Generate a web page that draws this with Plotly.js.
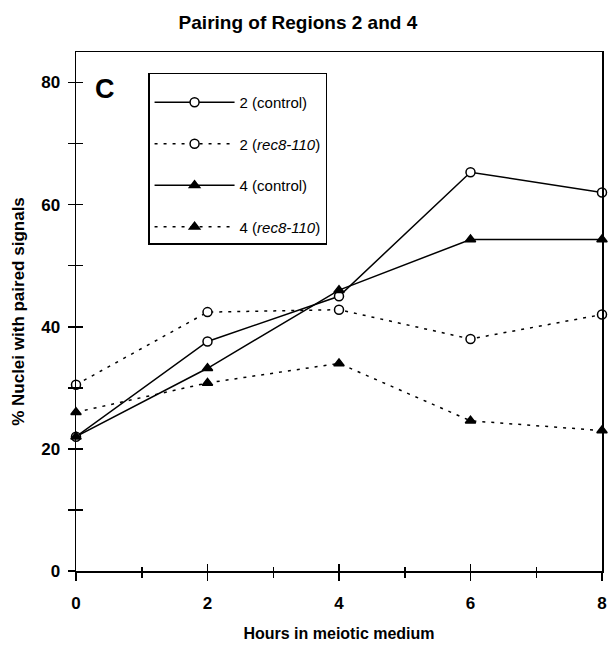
<!DOCTYPE html>
<html>
<head>
<meta charset="utf-8">
<script src="https://cdn.plot.ly/plotly-3.0.1.min.js"></script>
<style>html,body{margin:0;padding:0;background:#fff;}#chart{width:608px;height:645px;}</style>
</head>
<body>
<div id="chart"></div>
<script>
const hours = [0, 2, 4, 6, 8];
const region2Control = [22, 37.6, 45, 65.3, 62];
const region2Rec8 = [30.5, 42.4, 42.8, 38, 42];
const region4Control = [22, 33.2, 46, 54.3, 54.3];
const region4Rec8 = [26, 30.8, 34, 24.6, 23];
const seriesNames = ['2 (control)', '2 (<i>rec8-110</i>)', '4 (control)', '4 (<i>rec8-110</i>)'];
const yTickVals = [0, 20, 40, 60, 80];
const yMinorVals = [10, 30, 50, 70];
const xTickVals = [0, 2, 4, 6, 8];
const xMinorVals = [1, 3, 5, 7];

const FONT = 'Liberation Sans, Arial, sans-serif';
const lineW = 1.5;
const PLOT_W = 608 - 76 - 6, PLOT_H = 645 - 52 - 74;
function mk(y, name, sym, fill, dash, grp) {
  return {
    x: hours, y: y, name: name, type: 'scatter', mode: 'lines+markers',
    legendgroup: grp, cliponaxis: false,
    line: {color: '#000', width: lineW, dash: dash},
    marker: {symbol: sym, size: 9, color: fill, line: {color: '#000', width: 1.5}}
  };
}
const data = [
  mk(region2Control, seriesNames[0], 'circle', '#fff', 'solid', 'a'),
  mk(region2Rec8, seriesNames[1], 'circle', '#fff', '3px,6px', 'b'),
  mk(region4Control, seriesNames[2], 'triangle-up', '#000', 'solid', 'c'),
  mk(region4Rec8, seriesNames[3], 'triangle-up', '#000', '3px,6px', 'd'),
  {x: hours, y: region4Rec8, xaxis: 'x2', yaxis: 'y2', type: 'scatter', mode: 'markers', marker: {size: 1, color: 'rgba(0,0,0,0)'}, showlegend: false, hoverinfo: 'skip'},
  {x: hours, y: region4Rec8, xaxis: 'x3', yaxis: 'y2', type: 'scatter', mode: 'markers', marker: {size: 1, color: 'rgba(0,0,0,0)'}, showlegend: false, hoverinfo: 'skip'}
];

const hidden = {showticklabels: false, showline: false, showgrid: false, zeroline: false, tickwidth: 1.5, tickcolor: '#000', tickmode: 'array'};
const layout = {
  width: 608, height: 645,
  margin: {l: 76, r: 6, t: 52, b: 74},
  paper_bgcolor: '#fff', plot_bgcolor: 'rgba(0,0,0,0)',
  font: {family: FONT, color: '#000', size: 14},
  title: {text: '<b>Pairing of Regions 2 and 4</b>', x: 0.49, xanchor: 'center', y: 0.965, yanchor: 'middle',
          font: {family: FONT, size: 19, color: '#000'}},
  showlegend: true,
  legend: {x: 0.137, xanchor: 'left', y: 0.96, yanchor: 'top',
           bordercolor: '#000', borderwidth: 1.5, bgcolor: '#fff',
           font: {family: FONT, size: 15, color: '#000'},
           title: {text: ' ', font: {size: 9}},
           tracegroupgap: 19, itemwidth: 80},
  xaxis: {range: [0, 8], tickmode: 'array', tickvals: xTickVals, ticks: 'outside', ticklen: 8, tickwidth: 1.5, tickcolor: '#000',
          minor: {tickvals: xMinorVals, ticks: 'outside', ticklen: 5, tickwidth: 1.5, tickcolor: '#000'},
          showline: true, linecolor: '#000', linewidth: 1.5, mirror: true, showgrid: false, zeroline: false,
          tickfont: {family: FONT, size: 17, weight: 'bold'}, ticklabelstandoff: 8,
          title: {text: '<b>Hours in meiotic medium</b>', font: {family: FONT, size: 16}, standoff: 16}},
  yaxis: {range: [0, 85], tickmode: 'array', tickvals: yTickVals, ticks: 'outside', ticklen: 7, tickwidth: 1.5, tickcolor: '#000',
          minor: {tickvals: yMinorVals, ticks: 'outside', ticklen: 7, tickwidth: 1.5, tickcolor: '#000'},
          showline: true, linecolor: '#000', linewidth: 1.5, mirror: true, showgrid: false, zeroline: false,
          tickfont: {family: FONT, size: 17, weight: 'bold'}, ticklabelstandoff: 4,
          title: {text: '<b>% Nuclei with paired signals</b>', font: {family: FONT, size: 17}, standoff: 12}},
  xaxis2: Object.assign({range: [0, 8], overlaying: 'x', anchor: 'free', position: 8 / PLOT_H, side: 'top',
           tickvals: xTickVals, ticks: 'inside', ticklen: 8, layer: 'above traces'}, hidden),
  xaxis3: Object.assign({range: [0, 8], overlaying: 'x', anchor: 'free', position: 5 / PLOT_H, side: 'top',
           tickvals: xMinorVals, ticks: 'inside', ticklen: 5, layer: 'above traces'}, hidden),
  yaxis2: Object.assign({range: [0, 85], overlaying: 'y', anchor: 'free', position: 7 / PLOT_W, side: 'right',
           tickvals: yTickVals.concat(yMinorVals), ticks: 'inside', ticklen: 7, layer: 'above traces'}, hidden),
  annotations: [{text: '<b>C</b>', xref: 'paper', yref: 'paper', x: 0.056, y: 0.928, xanchor: 'center', yanchor: 'middle',
                 showarrow: false, font: {family: FONT, size: 27, color: '#000'}}]
};
Plotly.newPlot('chart', data, layout, {displayModeBar: false, staticPlot: true});
</script>
</body>
</html>
